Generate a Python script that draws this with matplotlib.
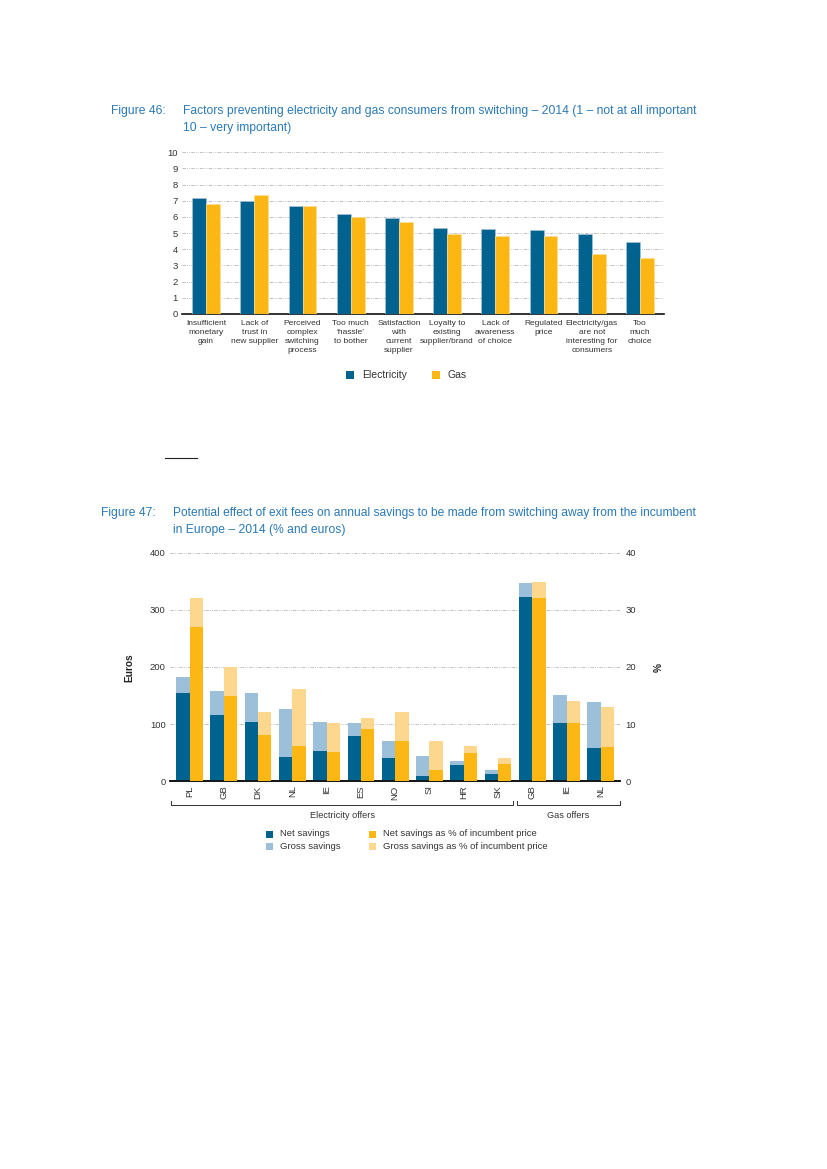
import numpy as np
import matplotlib
matplotlib.use("Agg")
import matplotlib.pyplot as plt
import matplotlib.font_manager as fm
import matplotlib.transforms as mtransforms
from matplotlib.patches import Rectangle
from matplotlib.lines import Line2D

# ---------------- data ----------------
factors = ["Insufficient\nmonetary\ngain", "Lack of\ntrust in\nnew supplier",
           "Perceived\ncomplex\nswitching\nprocess", "Too much\n\u2018hassle\u2019\nto bother",
           "Satisfaction\nwith\ncurrent\nsupplier", "Loyalty to\nexisting\nsupplier/brand",
           "Lack of\nawareness\nof choice", "Regulated\nprice",
           "Electricity/gas\nare not\ninteresting for\nconsumers", "Too\nmuch\nchoice"]
electricity = [7.17, 6.96, 6.65, 6.16, 5.91, 5.30, 5.26, 5.22, 4.97, 4.44]
gas = [6.78, 7.37, 6.67, 5.98, 5.67, 4.95, 4.83, 4.81, 3.74, 3.47]
yticks46 = [0, 1, 2, 3, 4, 5, 6, 7, 8, 9, 10]

countries = ["PL", "GB", "DK", "NL", "IE", "ES", "NO", "SI", "HR", "SK", "GB", "IE", "NL"]
net_savings = [155, 116, 103, 43, 53, 79, 41, 10, 29, 13, 322, 102, 59]
gross_savings = [183, 157, 155, 127, 104, 102, 70, 44, 36, 20, 347, 151, 139]
net_pct = [26.9, 15.0, 8.1, 6.2, 5.1, 9.2, 7.1, 2.0, 5.0, 3.0, 32.1, 10.2, 6.0]
gross_pct = [32.1, 20.0, 12.1, 16.2, 10.2, 11.1, 12.1, 7.1, 6.2, 4.1, 34.9, 14.1, 13.0]
n_electricity_offers = 10
yticks_eur = [0, 100, 200, 300, 400]
yticks_pct = [0, 10, 20, 30, 40]

# ---------------- style ----------------
names = {f.name for f in fm.fontManager.ttflist}
MAIN = "Liberation Sans" if "Liberation Sans" in names else "DejaVu Sans"
NARROW = "Liberation Sans Narrow" if "Liberation Sans Narrow" in names else MAIN
plt.rcParams["font.family"] = [MAIN, "DejaVu Sans"]

DARK = "#00628F"
ORANGE = "#FDB714"
LBLUE = "#9CC0D9"
LORANGE = "#FDD78E"
TITLE_C = "#2B79B5"
TXT = "#333333"
GRID_C = "#B5B5B5"
GRID_LS = (0, (4, 1.5, 1, 1.5, 1, 1.5))
TFS = 8.75

W, H = 827, 1169
fig = plt.figure(figsize=(W / 100, H / 100), dpi=100)


def rect(x0, x1, ytop, ybot):
    return [x0 / W, 1 - ybot / H, (x1 - x0) / W, (ybot - ytop) / H]


def fx(px):
    return px / W


def fy(py):
    return 1 - py / H


# ---------------- titles ----------------
fig.text(fx(111), fy(111), "Figure 46:", color=TITLE_C, fontsize=TFS, va="center")
fig.text(fx(183), fy(111), "Factors preventing electricity and gas consumers from switching \u2013 2014 (1 \u2013 not at all important",
         color=TITLE_C, fontsize=TFS, va="center")
fig.text(fx(183), fy(128), "10 \u2013 very important)", color=TITLE_C, fontsize=TFS, va="center")

fig.text(fx(101), fy(513), "Figure 47:", color=TITLE_C, fontsize=TFS, va="center")
fig.text(fx(173), fy(513), "Potential effect of exit fees on annual savings to be made from switching away from the incumbent",
         color=TITLE_C, fontsize=TFS * 0.985, va="center")
fig.text(fx(173), fy(530), "in Europe \u2013 2014 (% and euros)", color=TITLE_C, fontsize=TFS, va="center")

# ---------------- figure 46 ----------------
ax1 = fig.add_axes(rect(182, 664, 152.3, 314))
x = np.arange(len(factors))
bw = 0.29
ax1.bar(x - bw / 2, electricity, bw, color=DARK, edgecolor="#A9C3D6", linewidth=0.5, zorder=3)
ax1.bar(x + bw / 2, gas, bw, color=ORANGE, edgecolor="#FDDC95", linewidth=0.5, zorder=3)
ax1.set_xlim(-0.5, len(factors) - 0.5)
ax1.set_ylim(0, 10)
ax1.set_yticks(yticks46)
ax1.set_yticklabels([str(t) for t in yticks46], fontsize=6.8, color=TXT)
ax1.set_xticks(x)
ax1.set_xticklabels(factors, fontsize=6.0, color=TXT, linespacing=1.38, family=[NARROW, "DejaVu Sans"])
ax1.tick_params(axis="both", length=0)
ax1.tick_params(axis="y", pad=3)
ax1.tick_params(axis="x", pad=4.5)
for t in yticks46[1:]:
    ax1.axhline(t, color=GRID_C, lw=0.6, ls=GRID_LS, zorder=1)
for s in ["top", "right", "left"]:
    ax1.spines[s].set_visible(False)
ax1.spines["bottom"].set_color("#111111")
ax1.spines["bottom"].set_linewidth(1.2)

# legend fig 46
for sx, lab, col in [(346, "Electricity", DARK), (432, "Gas", ORANGE)]:
    fig.add_artist(Rectangle((fx(sx), fy(378.5)), 8 / W, 8 / H, transform=fig.transFigure,
                             facecolor=col, edgecolor="none"))
    fig.text(fx(sx + 16), fy(374.5), lab, fontsize=7.5, color=TXT, va="center")

# footnote separator
fig.add_artist(Line2D([fx(165), fx(197)], [fy(458), fy(458)], transform=fig.transFigure,
                      color="#222222", lw=0.8))

# ---------------- figure 47 ----------------
ax2 = fig.add_axes(rect(170, 620, 552.5, 781.3))
ax3 = ax2.twinx()
x2 = np.arange(len(countries))
bw2 = 0.39
ax2.bar(x2 - bw2 / 2, gross_savings, bw2, color=LBLUE, edgecolor="none", zorder=3)
ax2.bar(x2 - bw2 / 2, net_savings, bw2, color=DARK, edgecolor="none", zorder=4)
ax3.bar(x2 + bw2 / 2, gross_pct, bw2, color=LORANGE, edgecolor="none", zorder=3)
ax3.bar(x2 + bw2 / 2, net_pct, bw2, color=ORANGE, edgecolor="none", zorder=4)
ax2.set_xlim(-0.57, len(countries) - 1 + 0.56)
ax2.set_ylim(0, 400)
ax3.set_ylim(0, 40)
ax2.set_yticks(yticks_eur)
ax2.set_yticklabels([str(t) for t in yticks_eur], fontsize=6.8, color=TXT)
ax3.set_yticks(yticks_pct)
ax3.set_yticklabels([str(t) for t in yticks_pct], fontsize=6.8, color=TXT)
ax2.set_xticks(x2)
ax2.set_xticklabels(countries, rotation=90, fontsize=6.8, color=TXT, family=[NARROW, "DejaVu Sans"])
ax2.tick_params(axis="both", length=0, pad=3)
ax3.tick_params(axis="both", length=0, pad=4)
for t in yticks_eur[1:]:
    ax2.axhline(t, color=GRID_C, lw=0.6, ls=GRID_LS, zorder=1)
for a in (ax2, ax3):
    for s in ["top", "right", "left"]:
        a.spines[s].set_visible(False)
    a.spines["bottom"].set_color("#111111")
    a.spines["bottom"].set_linewidth(1.2)
ax3.set_zorder(2)
ax2.set_zorder(1)
ax3.patch.set_visible(False)
ax2.patch.set_visible(False)

fig.text(fx(129), fy(668), "Euros", rotation=90, fontsize=7.3, color="#222222", ha="center", va="center", fontweight="bold")
fig.text(fx(659), fy(668), "%", rotation=90, fontsize=7.3, color="#222222", ha="center", va="center", fontweight="bold")

# group brackets
bt = mtransforms.blended_transform_factory(ax2.transData, fig.transFigure)
groups = [(0, n_electricity_offers - 1, "Electricity offers"),
          (n_electricity_offers, len(countries) - 1, "Gas offers")]
for i0, i1, lab in groups:
    xa = i0 - 0.53 if i0 == 0 else i0 - 0.45
    xb = i1 + 0.57 if i1 == len(countries) - 1 else i1 + 0.44
    fig.add_artist(Line2D([xa, xa, xb, xb], [fy(800.5), fy(805), fy(805), fy(800.5)],
                          transform=bt, color="#333333", lw=0.7))
    fig.text((xa + xb) / 2, fy(815.5), lab, transform=bt, fontsize=6.6, color=TXT,
             ha="center", va="center", family=[NARROW, "DejaVu Sans"])

# legend fig 47
leg = [(266, 834, "Net savings", DARK), (266, 846.5, "Gross savings", LBLUE),
       (369, 834, "Net savings as % of incumbent price", ORANGE),
       (369, 846.5, "Gross savings as % of incumbent price", LORANGE)]
for sx, sy, lab, col in leg:
    fig.add_artist(Rectangle((fx(sx), fy(sy + 3.5)), 7 / W, 7 / H, transform=fig.transFigure,
                             facecolor=col, edgecolor="none"))
    fig.text(fx(sx + 14), fy(sy), lab, fontsize=6.8, color=TXT, va="center",
             family=[NARROW, "DejaVu Sans"])

fig.savefig("out.png", dpi=100)
